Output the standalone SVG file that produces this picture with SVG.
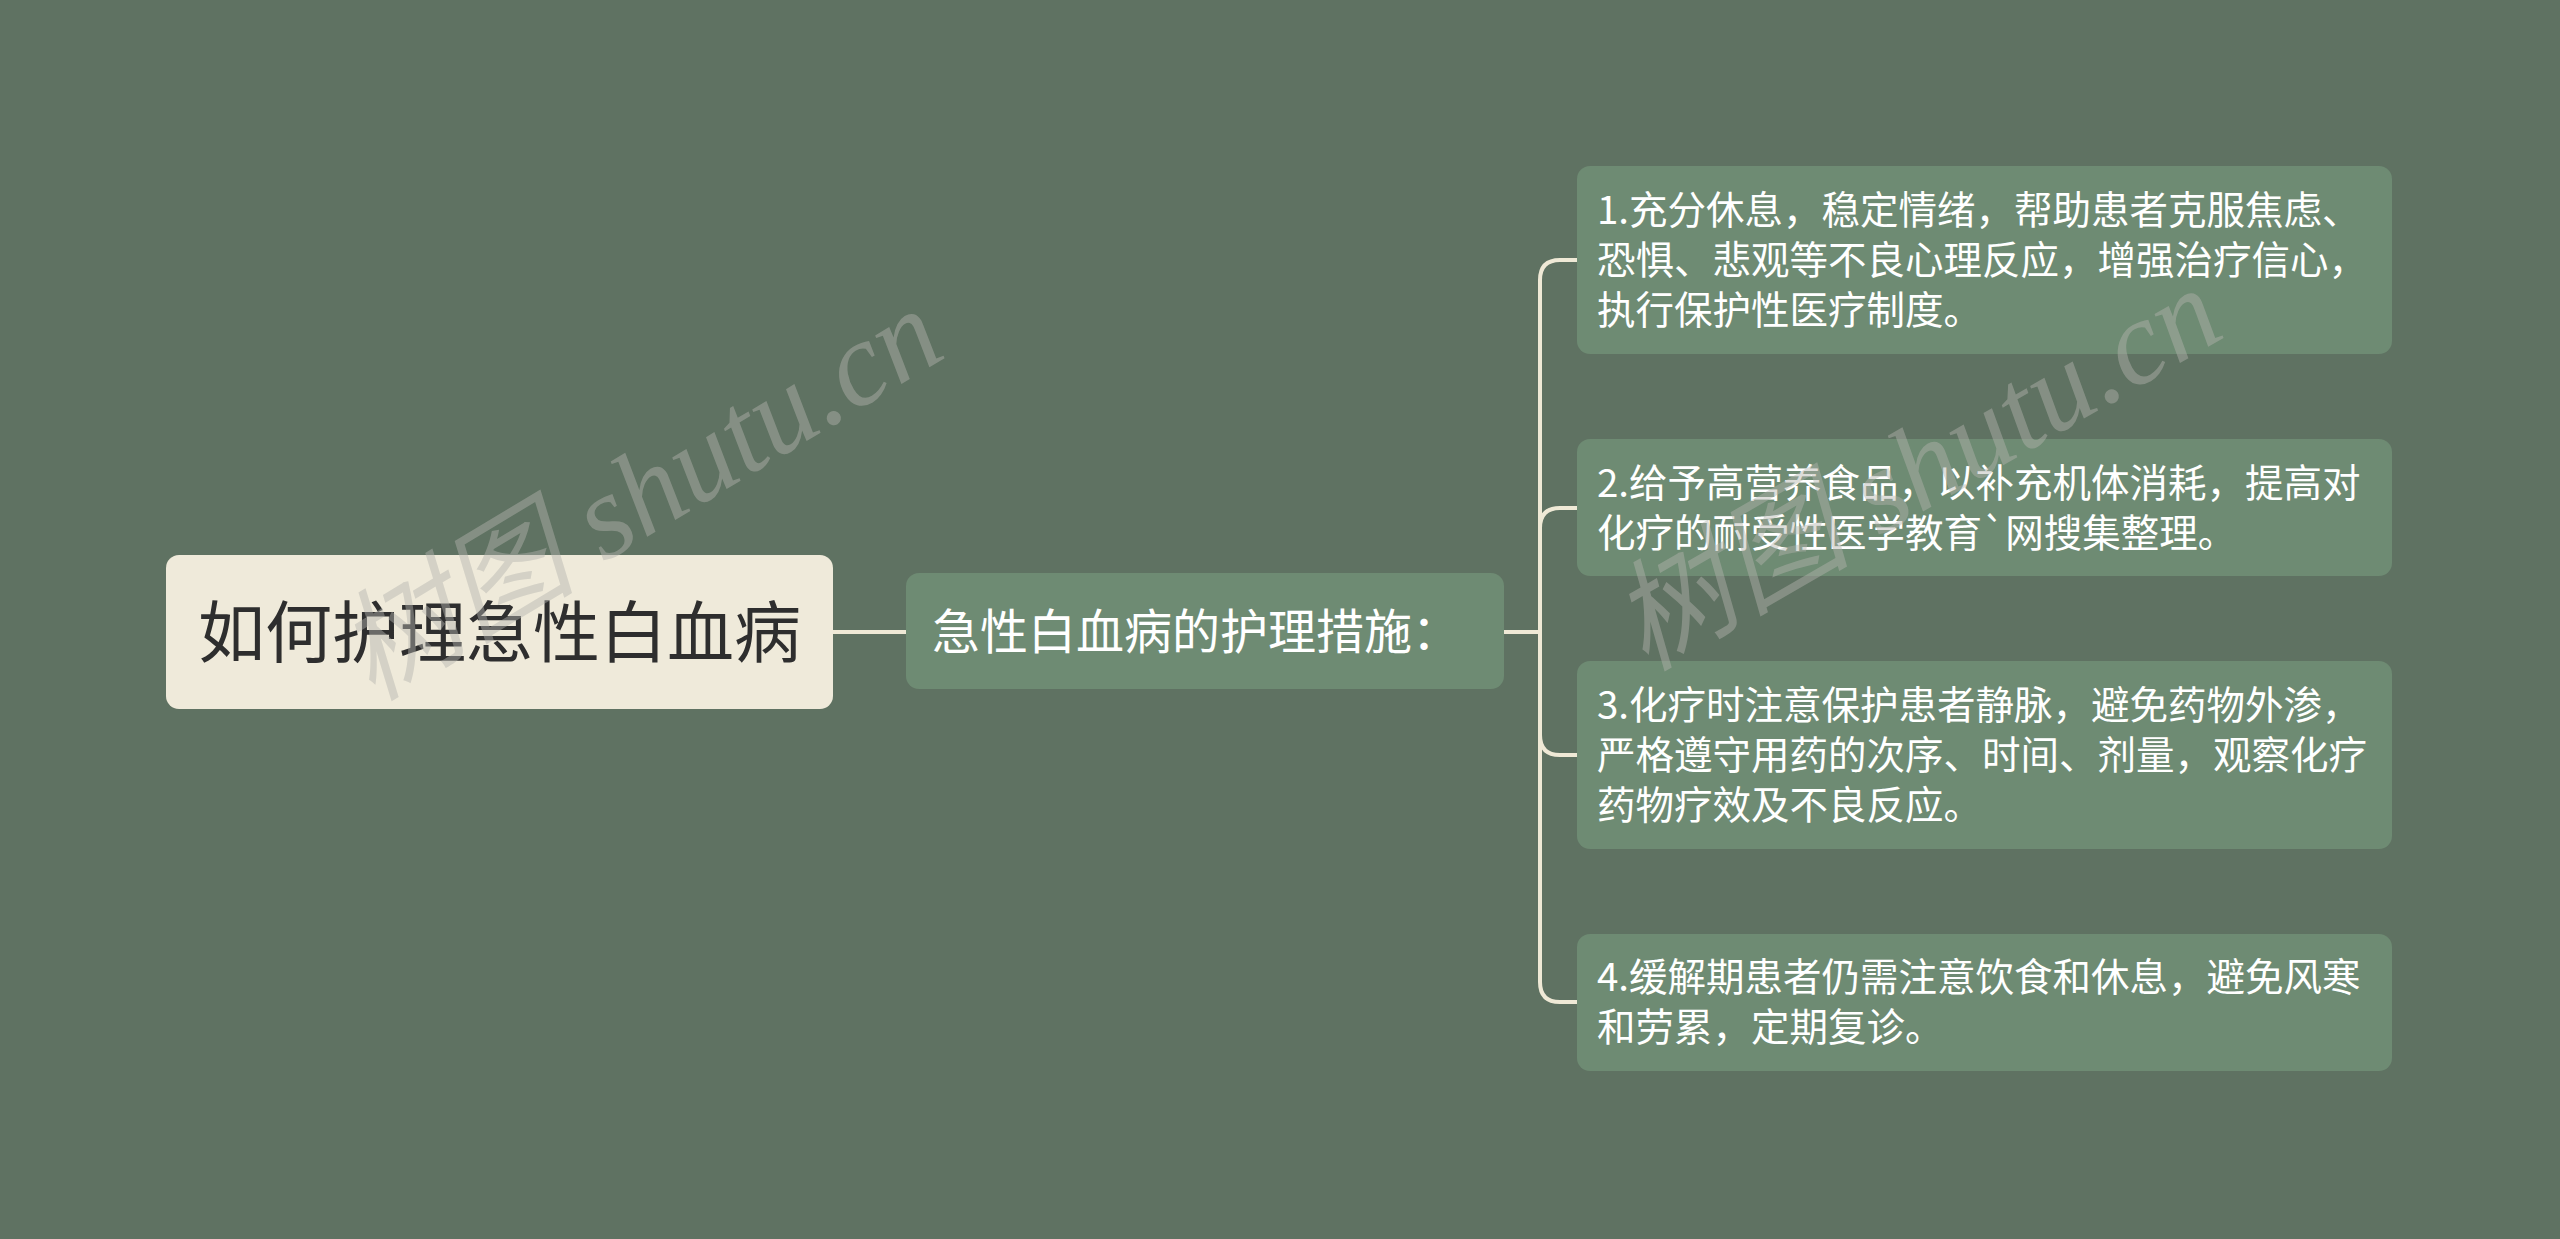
<svg xmlns="http://www.w3.org/2000/svg" width="2560" height="1239" viewBox="0 0 2560 1239">
<style>
.cn{font-family:"Noto Sans CJK SC","Noto Sans",sans-serif}
.leaf{fill:#6e8b73}
.lt{fill:#ffffff;font-size:38.5px}
.conn{fill:none;stroke:#efe9d6;stroke-width:4;stroke-linecap:round}
.wm{font-family:"Liberation Serif","Noto Sans CJK SC",serif;font-style:italic;font-size:120px;fill:#b4b4ae;opacity:0.45}
</style>
<rect width="2560" height="1239" fill="#5f7262"/>
<g id="connectors">
<path class="conn" d="M833,632 H906"/>
<path class="conn" d="M1504,632 H1540"/>
<path class="conn" d="M1540,632 V280 Q1540,260 1560,260 H1577"/>
<path class="conn" d="M1540,632 V528 Q1540,508 1560,508 H1577"/>
<path class="conn" d="M1540,632 V735 Q1540,755 1560,755 H1577"/>
<path class="conn" d="M1540,632 V982 Q1540,1002 1560,1002 H1577"/>
</g>
<g id="root">
<rect x="166" y="555" width="667" height="154" rx="13" fill="#efeada"/>
<text class="cn" x="499.5" y="657" text-anchor="middle" font-size="67" fill="#2e2e2e">如何护理急性白血病</text>
</g>
<g id="mid">
<rect x="906" y="573" width="598" height="116" rx="13" class="leaf"/>
<text class="cn" x="932" y="649" font-size="48" fill="#ffffff">急性白血病的护理措施：</text>
</g>
<g id="child1">
<rect x="1577" y="166" width="815" height="188" rx="13" class="leaf"/>
<text class="cn lt" x="1597" y="224">1.充分休息，稳定情绪，帮助患者克服焦虑、</text>
<text class="cn lt" x="1597" y="274">恐惧、悲观等不良心理反应，增强治疗信心，</text>
<text class="cn lt" x="1597" y="324">执行保护性医疗制度。</text>
</g>
<g id="child2">
<rect x="1577" y="439" width="815" height="137" rx="13" class="leaf"/>
<text class="cn lt" x="1597" y="497">2.给予高营养食品，以补充机体消耗，提高对</text>
<text class="cn lt" x="1597" y="547">化疗的耐受性医学教育`网搜集整理。</text>
</g>
<g id="child3">
<rect x="1577" y="661" width="815" height="188" rx="13" class="leaf"/>
<text class="cn lt" x="1597" y="719">3.化疗时注意保护患者静脉，避免药物外渗，</text>
<text class="cn lt" x="1597" y="769">严格遵守用药的次序、时间、剂量，观察化疗</text>
<text class="cn lt" x="1597" y="819">药物疗效及不良反应。</text>
</g>
<g id="child4">
<rect x="1577" y="934" width="815" height="137" rx="13" class="leaf"/>
<text class="cn lt" x="1597" y="991">4.缓解期患者仍需注意饮食和休息，避免风寒</text>
<text class="cn lt" x="1597" y="1041">和劳累，定期复诊。</text>
</g>
<g id="watermarks">
<text class="wm" transform="translate(372,702) rotate(-31)">树图 shutu.cn</text>
<text class="wm" transform="translate(1645,672) rotate(-30)">树图 shutu.cn</text>
</g>
</svg>
